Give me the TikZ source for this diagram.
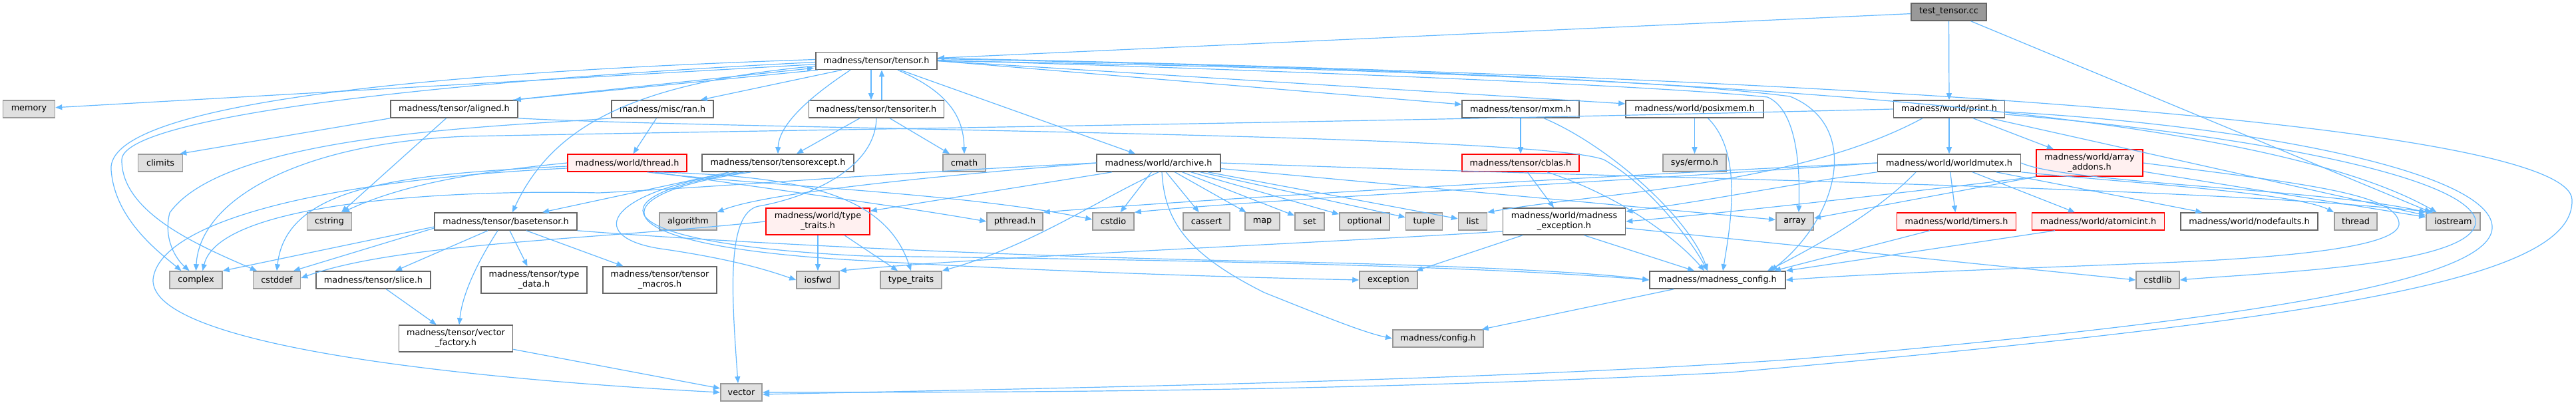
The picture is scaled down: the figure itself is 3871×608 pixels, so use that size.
\documentclass[tikz,border=0pt]{standalone}
\usepackage{fontspec}
\setmainfont{DejaVu Sans}
\usetikzlibrary{arrows.meta}
\definecolor{edgec}{HTML}{63B8FF}
\definecolor{wborder}{HTML}{666666}
\definecolor{gborder}{HTML}{999999}
\definecolor{gfill}{HTML}{E0E0E0}
\definecolor{rfill}{HTML}{FFF0F0}
\definecolor{rborder}{HTML}{FF0000}
\definecolor{ttfill}{HTML}{999999}
\tikzset{
 basenode/.style={line width=1.6pt, minimum height=26pt, inner sep=0pt, align=center, font=\fontsize{12.8}{15}\selectfont, text=black},
 whitenode/.style={basenode, draw=wborder, fill=white},
 graynode/.style={basenode, draw=gborder, fill=gfill},
 rednode/.style={basenode, draw=rborder, fill=rfill},
 rootnode/.style={basenode, draw=wborder, fill=ttfill},
 twoline/.style={minimum height=40pt},
 dep/.style={draw=edgec, line width=1.2pt, -{Triangle[length=10pt,width=8pt]}}
}
\begin{document}
\begin{tikzpicture}[x=1pt,y=-1pt]
\useasboundingbox (0,0) rectangle (3871,608);
% nodes
\node[rootnode, minimum width=113pt] (tt) at (2928.5,18) {test\_tensor.cc};
\node[whitenode, minimum width=182.5pt] (tensor) at (1317,91.5) {madness/tensor/tensor.h};
\node[graynode, minimum width=78pt] (memory) at (43.5,164) {memory};
\node[whitenode, minimum width=191pt] (aligned) at (682.5,164) {madness/tensor/aligned.h};
\node[whitenode, minimum width=153pt] (ran) at (995.5,164) {madness/misc/ran.h};
\node[whitenode, minimum width=203pt] (tensoriter) at (1317,164) {madness/tensor/tensoriter.h};
\node[whitenode, minimum width=176pt] (mxm) at (2285,164) {madness/tensor/mxm.h};
\node[whitenode, minimum width=207pt] (posixmem) at (2546.5,164) {madness/world/posixmem.h};
\node[whitenode, minimum width=167pt] (print) at (2929,164) {madness/world/print.h};
\node[graynode, minimum width=67pt] (climits) at (241,245) {climits};
\node[rednode, minimum width=179pt] (thread) at (942.5,245) {madness/world/thread.h};
\node[whitenode, minimum width=228pt] (tensorexcept) at (1169,245) {madness/tensor/tensorexcept.h};
\node[graynode, minimum width=63.5pt] (cmath) at (1449,245) {cmath};
\node[whitenode, minimum width=185.5pt] (archive) at (1741,245) {madness/world/archive.h};
\node[rednode, minimum width=176pt] (cblas) at (2285,245) {madness/tensor/cblas.h};
\node[graynode, minimum width=95pt] (errno) at (2546.5,245) {sys/errno.h};
\node[whitenode, minimum width=215pt] (worldmutex) at (2929,245) {madness/world/worldmutex.h};
\node[rednode, twoline, minimum width=159.6pt] (arrayaddons) at (3140,245) {madness/world/array\\\_addons.h};
\node[graynode, minimum width=67pt] (cstring) at (495,333) {cstring};
\node[whitenode, minimum width=213.5pt] (basetensor) at (760,333) {madness/tensor/basetensor.h};
\node[graynode, minimum width=85.5pt] (algorithm) at (1034,333) {algorithm};
\node[rednode, twoline, minimum width=156pt] (wtypetraits) at (1229,333) {madness/world/type\\\_traits.h};
\node[graynode, minimum width=84pt] (pthread) at (1525,333) {pthread.h};
\node[graynode, minimum width=62pt] (cstdio) at (1673,333) {cstdio};
\node[graynode, minimum width=70pt] (cassert) at (1813,333) {cassert};
\node[graynode, minimum width=51.5pt] (map) at (1897,333) {map};
\node[graynode, minimum width=44pt] (set) at (1968,333) {set};
\node[graynode, minimum width=75pt] (optional) at (2050.5,333) {optional};
\node[graynode, minimum width=55pt] (tuple) at (2140,333) {tuple};
\node[graynode, minimum width=43pt] (list) at (2213,333) {list};
\node[whitenode, twoline, minimum width=184pt] (mexc) at (2350.5,333) {madness/world/madness\\\_exception.h};
\node[graynode, minimum width=56.5pt] (array) at (2697,333) {array};
\node[rednode, minimum width=179pt] (timers) at (2940,333) {madness/world/timers.h};
\node[rednode, minimum width=199pt] (atomicint) at (3153,333) {madness/world/atomicint.h};
\node[whitenode, minimum width=206.4pt] (nodefaults) at (3380,333) {madness/world/nodefaults.h};
\node[graynode, minimum width=64.3pt] (stdthread) at (3540,333) {thread};
\node[graynode, minimum width=81pt] (iostream) at (3686.5,333) {iostream};
\node[graynode, minimum width=79pt] (complex) at (294.5,421) {complex};
\node[graynode, minimum width=71pt] (cstddef) at (416,421) {cstddef};
\node[whitenode, minimum width=172pt] (slice) at (561,421) {madness/tensor/slice.h};
\node[whitenode, twoline, minimum width=159pt] (typedata) at (802.5,421) {madness/tensor/type\\\_data.h};
\node[whitenode, twoline, minimum width=171pt] (tmacros) at (991.5,421) {madness/tensor/tensor\\\_macros.h};
\node[graynode, minimum width=64pt] (iosfwd) at (1229,421) {iosfwd};
\node[graynode, minimum width=92pt] (typetraits) at (1369,421) {type\_traits};
\node[graynode, minimum width=87pt] (exception) at (2086.5,421) {exception};
\node[whitenode, minimum width=204pt] (mconfig) at (2581,421) {madness/madness\_config.h};
\node[graynode, minimum width=65pt] (cstdlib) at (3242.5,421) {cstdlib};
\node[whitenode, twoline, minimum width=171pt] (vecfactory) at (685,509) {madness/tensor/vector\\\_factory.h};
\node[graynode, minimum width=136.5pt] (config) at (2161,509) {madness/config.h};
\node[graynode, minimum width=62.5pt] (vector) at (1114,590) {vector};

% test_tensor.cc
\draw[dep] (tt) -- (tensor);
\draw[dep] (tt) -- (print);
\draw[dep] (tt) -- (iostream);

% tensor.h
\draw[dep] (tensor) -- (memory);
\draw[dep] ([yshift=2pt]tensor.west) .. controls (600,110) and (160,160) .. (167,255) .. controls (172,330) and (240,380) .. ([xshift=-22pt]complex.north);
\draw[dep] ([yshift=-2pt]tensor.west) .. controls (600,125) and (185,180) .. (183,240) .. controls (182,320) and (300,370) .. ([xshift=-30pt]cstddef.north);
\draw[dep] ([xshift=4pt]tensor.south west) -- ([xshift=-6pt]aligned.north east);
\draw[dep] ([xshift=-8pt]aligned.north east) -- ([xshift=-2pt,yshift=3pt]tensor.south west);
\draw[dep] ([xshift=40pt]tensor.south west) -- ([xshift=-20pt]ran.north east);
\draw[dep] ([xshift=-8pt]tensor.south) -- ([xshift=-8pt]tensoriter.north);
\draw[dep] ([xshift=8pt]tensoriter.north) -- ([xshift=8pt]tensor.south);
\draw[dep] ([xshift=53pt]tensor.south west) .. controls (1210,150) and (1170,190) .. (tensorexcept.north);
\draw[dep] ([yshift=6pt]tensor.south west) .. controls (950,125) and (830,190) .. ([xshift=10pt]basetensor.north);
\draw[dep] ([xshift=32pt]tensor.south) .. controls (1430,140) and (1448,180) .. (cmath.north);
\draw[dep] ([xshift=36pt]tensor.south) -- ([xshift=-35pt]archive.north);
\draw[dep] (tensor.east) -- ([yshift=7pt]mxm.west);
\draw[dep] (tensor.east) -- ([yshift=8pt]posixmem.west);
\draw[dep] ([yshift=3pt]tensor.east) .. controls (2000,100) and (2500,120) .. (2690,145) .. controls (2800,190) and (2760,330) .. ([xshift=80pt]mconfig.north);
\draw[dep] ([yshift=1pt]tensor.east) .. controls (2000,108) and (2500,130) .. (2656,146) .. controls (2700,165) and (2705,250) .. ([xshift=6pt]array.north);
\draw[dep] (tensor.east) .. controls (2600,110) and (3400,170) .. ([xshift=-25pt]iostream.north);
\draw[dep] ([yshift=4pt]tensor.east) .. controls (3000,120) and (3860,200) .. (3865,300) .. controls (3870,420) and (3500,480) .. (2600,560) .. controls (2000,590) and (1500,590) .. (vector.east);

% aligned.h
\draw[dep] (aligned.south west) -- ([xshift=-5pt]climits.north east);
\draw[dep] ([xshift=-12pt]aligned.south) -- ([xshift=18pt]cstring.north);
\draw[dep] (aligned.south east) .. controls (1100,195) and (2300,200) .. (2410,240) .. controls (2480,280) and (2540,360) .. ([xshift=-15pt]mconfig.north);

% ran.h
\draw[dep] (ran) -- (thread);
\draw[dep] (ran.south west) .. controls (760,190) and (340,200) .. (255,320) .. controls (245,360) and (265,390) .. ([xshift=-10pt]complex.north);

% tensoriter.h
\draw[dep] ([xshift=-25pt]tensoriter.south) -- ([xshift=28pt]tensorexcept.north);
\draw[dep] ([xshift=20pt]tensoriter.south) -- ([xshift=-22pt]cmath.north);
\draw[dep] (tensoriter.south) .. controls (1315,260) and (1200,300) .. (1140,310) .. controls (1090,320) and (1100,450) .. ([xshift=-5pt]vector.north);

% tensorexcept.h
\draw[dep] ([xshift=-73pt]tensorexcept.south) -- ([xshift=55pt]basetensor.north);
\draw[dep] ([xshift=-60pt]tensorexcept.south) .. controls (900,290) and (880,360) .. (1000,375) .. controls (1100,390) and (1150,405) .. (iosfwd.west);
\draw[dep] ([xshift=-40pt]tensorexcept.south) .. controls (900,290) and (880,370) .. (1300,392) .. controls (1600,410) and (1900,418) .. (exception.west);
\draw[dep] ([xshift=-50pt]tensorexcept.south) .. controls (900,290) and (880,365) .. (1300,385) .. controls (1700,390) and (2200,398) .. (mconfig.west);

% thread.h
\draw[dep] (thread.west) .. controls (700,260) and (600,280) .. ([xshift=20pt]cstring.north);
\draw[dep] ([yshift=-5pt]thread.west) .. controls (600,262) and (430,280) .. (cstddef.north);
\draw[dep] ([xshift=40pt]thread.south) .. controls (1200,290) and (1350,310) .. (pthread.west);
\draw[dep] ([xshift=30pt]thread.south) .. controls (1150,280) and (1450,290) .. ([yshift=3pt]cstdio.west);
\draw[dep] ([xshift=45pt]thread.south) .. controls (1200,265) and (1330,290) .. (typetraits.north);
\draw[dep] ([yshift=-8pt]thread.west) .. controls (500,270) and (240,330) .. (230,420) .. controls (225,520) and (700,570) .. (vector.west);

% archive.h
\draw[dep] ([xshift=-70pt]archive.south) -- ([yshift=-5pt]wtypetraits.north east);
\draw[dep] (archive.south) .. controls (1650,300) and (1550,370) .. (typetraits.north east);
\draw[dep] (archive) -- (cstdio);
\draw[dep] (archive) -- (cassert);
\draw[dep] (archive) -- (map);
\draw[dep] (archive) -- (set);
\draw[dep] (archive) -- (optional);
\draw[dep] (archive) -- (tuple);
\draw[dep] (archive) -- (list);
\draw[dep] (archive) -- (array);
\draw[dep] (archive.east) .. controls (2500,270) and (3300,280) .. ([xshift=-30pt]iostream.north);
\draw[dep] ([xshift=5pt]archive.south) .. controls (1750,330) and (1780,380) .. (1900,440) .. controls (2000,480) and (2050,500) .. (config.west);
\draw[dep] (archive.west) .. controls (1300,262) and (1100,280) .. (900,290) .. controls (700,285) and (330,300) .. ([xshift=10pt]complex.north);
\draw[dep] (archive.west) .. controls (1400,265) and (1150,290) .. (algorithm.north east);

% type_traits.h
\draw[dep] (wtypetraits) -- (iosfwd);
\draw[dep] ([xshift=40pt]wtypetraits.south) -- ([xshift=-20pt]typetraits.north);
\draw[dep] (wtypetraits.west) .. controls (900,360) and (600,365) .. ([yshift=3pt]cstddef.east);

% mxm, posixmem, cblas
\draw[dep] (mxm) -- (cblas);
\draw[dep] ([xshift=35pt]mxm.south) .. controls (2420,220) and (2540,330) .. ([xshift=-15pt]mconfig.north);
\draw[dep] (posixmem) -- (errno);
\draw[dep] ([xshift=20pt]posixmem.south) .. controls (2620,230) and (2600,340) .. ([xshift=8pt]mconfig.north);
\draw[dep] (cblas) -- (mexc);
\draw[dep] ([xshift=40pt]cblas.south) .. controls (2450,300) and (2530,370) .. ([xshift=-20pt]mconfig.north);

% madness_exception.h
\draw[dep] (mexc) -- (exception);
\draw[dep] ([xshift=30pt]mexc.south) -- ([xshift=-35pt]mconfig.north);
\draw[dep] ([yshift=-10pt]mexc.east) -- (cstdlib.west);
\draw[dep] ([yshift=-15pt]mexc.west) .. controls (1900,370) and (1500,385) .. (iosfwd.north east);

% print.h
\draw[dep] (print) -- (worldmutex);
\draw[dep] (print) -- (arrayaddons);
\draw[dep] (print.west) .. controls (2000,185) and (1200,195) .. (700,205) .. controls (450,215) and (300,300) .. (complex.north);
\draw[dep] ([xshift=-40pt]print.south) .. controls (2700,280) and (2400,290) .. (list.north east);
\draw[dep] (print) -- (iostream);
\draw[dep] ([yshift=-4pt]print.east) .. controls (3400,190) and (3740,260) .. (3745,340) .. controls (3750,420) and (3400,480) .. (2700,540) .. controls (2200,575) and (1500,585) .. ([yshift=-3pt]vector.east);
\draw[dep] ([yshift=-8pt]print.east) .. controls (3350,200) and (3700,260) .. (3720,330) .. controls (3730,400) and (3400,410) .. (cstdlib.east);

% worldmutex.h
\draw[dep] (worldmutex.west) .. controls (2400,265) and (1800,300) .. (pthread.north east);
\draw[dep] (worldmutex.west) .. controls (2400,275) and (1900,300) .. (cstdio.north east);
\draw[dep] ([xshift=-50pt]worldmutex.south) .. controls (2830,310) and (2750,360) .. ([xshift=75pt]mconfig.north);
\draw[dep] (worldmutex) -- (timers);
\draw[dep] (worldmutex) -- (atomicint);
\draw[dep] (worldmutex) -- (nodefaults);
\draw[dep] (worldmutex.south east) .. controls (3200,275) and (3450,290) .. (stdthread.north west);
\draw[dep] (worldmutex.east) .. controls (3100,275) and (3500,285) .. (iostream.north west);
\draw[dep] (worldmutex.south west) .. controls (2700,275) and (2550,305) .. ([yshift=15pt]mexc.east);

% array_addons.h
\draw[dep] (arrayaddons.south west) -- ([yshift=5pt]array.east);
\draw[dep] (arrayaddons) -- (iostream);
\draw[dep] (arrayaddons.south west) .. controls (2900,285) and (2600,320) .. (mexc.east);
\draw[dep] (arrayaddons.east) .. controls (3450,275) and (3600,290) .. (3605,335) .. controls (3610,375) and (3400,390) .. (3200,397) .. controls (3000,405) and (2800,412) .. (mconfig.east);

% timers, atomicint
\draw[dep] ([xshift=-40pt]timers.south) -- ([xshift=85pt]mconfig.north);
\draw[dep] ([xshift=-65pt]atomicint.south) -- (mconfig.north east);

% basetensor.h
\draw[dep] ([xshift=-27pt]basetensor.south) -- ([xshift=33pt]slice.north);
\draw[dep] ([xshift=-12pt]basetensor.south) .. controls (720,390) and (695,440) .. ([xshift=5pt]vecfactory.north);
\draw[dep] ([xshift=6pt]basetensor.south) -- ([xshift=-10pt]typedata.north);
\draw[dep] ([xshift=31pt]basetensor.south) -- ([xshift=-55pt]tmacros.north);
\draw[dep] ([yshift=-8pt]basetensor.west) -- (complex.north east);
\draw[dep] ([yshift=-10pt]basetensor.west) -- ([xshift=25pt]cstddef.north);
\draw[dep] (basetensor.south east) .. controls (1100,365) and (1500,385) .. (1900,393) .. controls (2200,399) and (2400,410) .. (mconfig.west);

% others
\draw[dep] (slice) -- (vecfactory);
\draw[dep] (vecfactory) -- (vector);
\draw[dep] (mconfig) -- (config);
\end{tikzpicture}
\end{document}
